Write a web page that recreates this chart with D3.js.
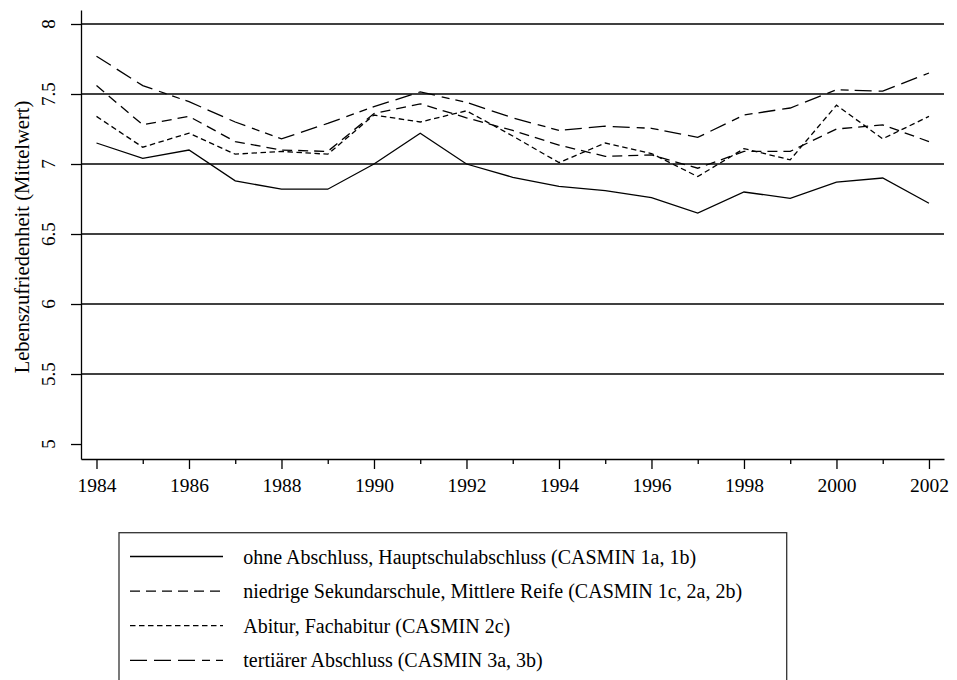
<!DOCTYPE html>
<html>
<head>
<meta charset="utf-8">
<script src="https://cdn.jsdelivr.net/npm/d3@7"></script>
<style>
  body { margin: 0; background: #fff; }
  svg text { font-family: "Liberation Serif", Times, "Nimbus Roman", "DejaVu Serif", serif; }
</style>
</head>
<body>
<div id="chart"></div>
<script>
"use strict";
(function() {

const WIDTH = 957
const HEIGHT = 680
const FONT = '"Liberation Serif", Times, "Nimbus Roman", "DejaVu Serif", serif'

const years = d3.range(1984, 2003)

const ohne = [7.15, 7.04, 7.10, 6.88, 6.82, 6.82, 7.00, 7.22, 7.00, 6.905, 6.84, 6.81, 6.76, 6.65, 6.80, 6.755, 6.87, 6.90, 6.72]
const niedrig = [7.56, 7.28, 7.34, 7.16, 7.10, 7.09, 7.36, 7.43, 7.33, 7.24, 7.135, 7.055, 7.065, 6.97, 7.09, 7.09, 7.25, 7.28, 7.16]
const abitur = [7.34, 7.12, 7.22, 7.07, 7.09, 7.07, 7.35, 7.30, 7.38, 7.20, 7.01, 7.15, 7.075, 6.91, 7.11, 7.03, 7.42, 7.18, 7.34]
const tertiaer = [7.77, 7.56, 7.445, 7.30, 7.18, 7.29, 7.41, 7.515, 7.44, 7.33, 7.24, 7.27, 7.255, 7.19, 7.35, 7.40, 7.53, 7.52, 7.65]

const yTicks = [5, 5.5, 6, 6.5, 7, 7.5, 8]
const gridValues = [5.5, 6, 6.5, 7, 7.5, 8]
const majorYears = d3.range(1984, 2003, 2)
const minorYears = d3.range(1985, 2002, 2)

const series = [
    { label: "ohne Abschluss, Hauptschulabschluss (CASMIN 1a, 1b)", values: ohne, dash: null },
    { label: "niedrige Sekundarschule, Mittlere Reife (CASMIN 1c, 2a, 2b)", values: niedrig, dash: "10,6" },
    { label: "Abitur, Fachabitur (CASMIN 2c)", values: abitur, dash: "5.5,3.5" },
    { label: "tertiärer Abschluss (CASMIN 3a, 3b)", values: tertiaer, dash: "17,7,17,7,17,7,8,6,8,6" }
]

// plot box: axis lines run along the full padded range
let x_scale = d3.scaleLinear().domain([1983.665, 2002.325]).range([81, 944])
let y_scale = d3.scaleLinear().domain([4.893, 8.1]).range([459, 10])

let svg = d3.select("#chart").append("svg")
    .attr("width", WIDTH)
    .attr("height", HEIGHT)

// horizontal reference lines
svg.append("g").selectAll("line")
    .data(gridValues)
    .join("line")
    .attr("x1", x_scale.range()[0])
    .attr("x2", x_scale.range()[1])
    .attr("y1", d => y_scale(d))
    .attr("y2", d => y_scale(d))
    .style("stroke", "#000")
    .style("stroke-width", 1.4)

// y axis
let yAxis = svg.append("g")
    .attr("transform", "translate(81,0)")
    .call(d3.axisLeft(y_scale).tickValues(yTicks).tickSize(10).tickSizeOuter(0).tickFormat(""))
yAxis.selectAll("path, line").style("stroke", "#000").style("stroke-width", 1.3)

svg.append("g").selectAll("text")
    .data(yTicks)
    .join("text")
    .attr("transform", d => `translate(48,${y_scale(d)}) rotate(-90)`)
    .attr("text-anchor", "middle")
    .attr("dy", "0.35em")
    .style("font-family", FONT)
    .style("font-size", "19px")
    .text(d => d)

svg.append("text")
    .attr("transform", `translate(22,237) rotate(-90)`)
    .attr("text-anchor", "middle")
    .attr("dy", "0.35em")
    .style("font-family", FONT)
    .style("font-size", "20.5px")
    .text("Lebenszufriedenheit (Mittelwert)")

// x axis, major + minor ticks
let xAxis = svg.append("g")
    .attr("transform", "translate(0,459)")
    .call(d3.axisBottom(x_scale).tickValues(majorYears).tickSize(10).tickSizeOuter(0).tickPadding(9).tickFormat(d3.format("d")))
xAxis.selectAll("path, line").style("stroke", "#000").style("stroke-width", 1.3)
xAxis.selectAll("text").style("font-size", "19.5px").style("fill", "#000").style("font-family", FONT)

let xMinor = svg.append("g")
    .attr("transform", "translate(0,459)")
    .call(d3.axisBottom(x_scale).tickValues(minorYears).tickSize(5).tickSizeOuter(0).tickFormat(""))
xMinor.select("path").remove()
xMinor.selectAll("line").style("stroke", "#000").style("stroke-width", 1.3)

// data lines
let line = d3.line()
    .x((d, i) => x_scale(years[i]))
    .y(d => y_scale(d))

svg.append("g").selectAll("path")
    .data(series)
    .join("path")
    .attr("d", d => line(d.values))
    .style("fill", "none")
    .style("stroke", "#000")
    .style("stroke-width", 1.3)
    .style("stroke-dasharray", d => d.dash)

// legend
let legend = svg.append("g")
legend.append("rect")
    .attr("x", 119)
    .attr("y", 532.7)
    .attr("width", 667.7)
    .attr("height", 200)
    .style("fill", "none")
    .style("stroke", "#333")
    .style("stroke-width", 1.3)

let rows = legend.selectAll("g.row")
    .data(series)
    .join("g")
    .attr("class", "row")
    .attr("transform", (d, i) => `translate(0,${556.5 + i * 34.6})`)

rows.append("line")
    .attr("x1", 130)
    .attr("x2", 223)
    .style("stroke", "#000")
    .style("stroke-width", 1.3)
    .style("stroke-dasharray", d => d.dash)

rows.append("text")
    .attr("x", 243.3)
    .attr("dy", "0.35em")
    .style("font-family", FONT)
    .style("font-size", "20px")
    .text(d => d.label)

})();
</script>
</body>
</html>
